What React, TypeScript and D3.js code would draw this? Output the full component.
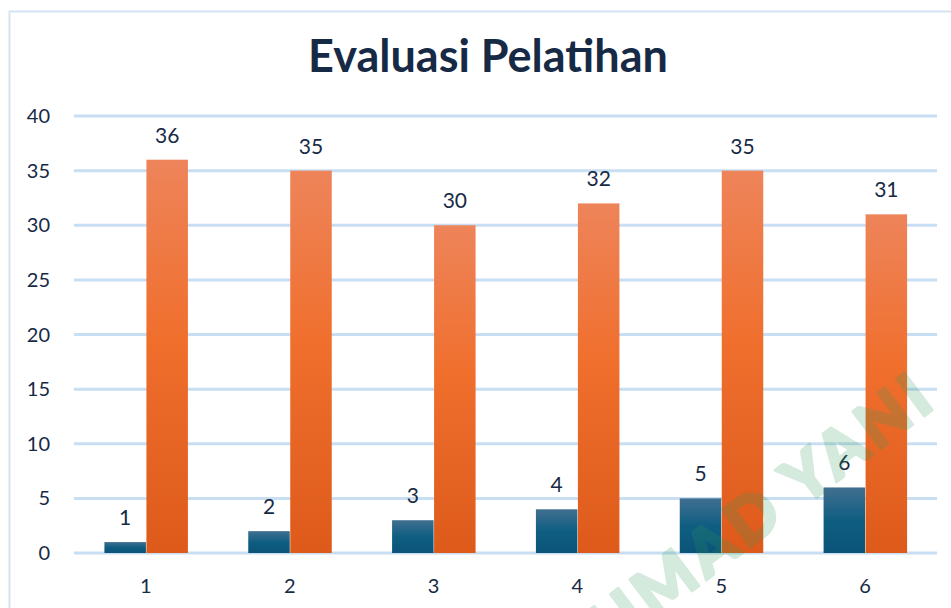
import React, { useEffect, useRef } from "react";
import * as d3 from "d3";

const categories = ["1", "2", "3", "4", "5", "6"];
const seriesBlue = [1, 2, 3, 4, 5, 6];
const seriesOrange = [36, 35, 30, 32, 35, 31];
const yTicks = [0, 5, 10, 15, 20, 25, 30, 35, 40];
const title = "Evaluasi Pelatihan";
const watermark = "ACHMAD YANI";

const W = 951;
const H = 608;
const textColor = "#172a45";
const font = "Lato, 'Open Sans', sans-serif";

export default function App() {
  const ref = useRef<SVGSVGElement>(null);

  useEffect(() => {
    const svg = d3.select(ref.current);
    svg.selectAll("*").remove();

    const defs = svg.append("defs");
    const gOrange = defs
      .append("linearGradient")
      .attr("id", "gradOrange")
      .attr("x1", 0)
      .attr("y1", 0)
      .attr("x2", 0)
      .attr("y2", 1);
    gOrange.append("stop").attr("offset", "0%").attr("stop-color", "#ee845a");
    gOrange.append("stop").attr("offset", "45%").attr("stop-color", "#f06f2d");
    gOrange.append("stop").attr("offset", "100%").attr("stop-color", "#dd5a1b");

    const gBlue = defs
      .append("linearGradient")
      .attr("id", "gradBlue")
      .attr("x1", 0)
      .attr("y1", 0)
      .attr("x2", 0)
      .attr("y2", 1);
    gBlue.append("stop").attr("offset", "0%").attr("stop-color", "#416f90");
    gBlue.append("stop").attr("offset", "50%").attr("stop-color", "#0f5e82");
    gBlue.append("stop").attr("offset", "100%").attr("stop-color", "#0a5478");

    // chart frame
    svg
      .append("rect")
      .attr("x", 9.5)
      .attr("y", 11.5)
      .attr("width", 970)
      .attr("height", 640)
      .attr("fill", "#fff")
      .attr("stroke", "#d3e3f4")
      .attr("stroke-width", 2);

    const x = d3.scaleBand<string>().domain(categories).range([74, 937]);
    const y = d3.scaleLinear().domain([0, 40]).range([553, 116]);
    const barW = 41.5;

    // gridlines
    svg
      .append("g")
      .selectAll("line")
      .data(yTicks)
      .join("line")
      .attr("x1", 74)
      .attr("x2", 937)
      .attr("y1", (d) => y(d))
      .attr("y2", (d) => y(d))
      .attr("stroke", "#c8def2")
      .attr("stroke-width", 3);

    // y tick labels
    svg
      .append("g")
      .selectAll("text")
      .data(yTicks)
      .join("text")
      .attr("x", 50)
      .attr("y", (d) => y(d))
      .attr("dy", "0.35em")
      .attr("text-anchor", "end")
      .attr("font-family", font)
      .attr("font-size", 20)
      .attr("fill", textColor)
      .text((d) => d);

    // x labels
    svg
      .append("g")
      .selectAll("text")
      .data(categories)
      .join("text")
      .attr("x", (d) => x(d)! + x.bandwidth() / 2)
      .attr("y", 593)
      .attr("text-anchor", "middle")
      .attr("font-family", font)
      .attr("font-size", 20)
      .attr("fill", textColor)
      .text((d) => d);

    const center = (i: number) => x(categories[i])! + x.bandwidth() / 2;

    // blue bars
    svg
      .append("g")
      .selectAll("rect")
      .data(seriesBlue)
      .join("rect")
      .attr("x", (d, i) => center(i) - barW)
      .attr("y", (d) => y(d))
      .attr("width", barW)
      .attr("height", (d) => y(0) - y(d))
      .attr("fill", "url(#gradBlue)");

    // orange bars
    svg
      .append("g")
      .selectAll("rect")
      .data(seriesOrange)
      .join("rect")
      .attr("x", (d, i) => center(i) + 0.5)
      .attr("y", (d) => y(d))
      .attr("width", barW)
      .attr("height", (d) => y(0) - y(d))
      .attr("fill", "url(#gradOrange)");

    // value labels
    const labels = svg.append("g").attr("font-family", font).attr("font-size", 21).attr("fill", textColor).attr("text-anchor", "middle");
    labels
      .selectAll("text.b")
      .data(seriesBlue)
      .join("text")
      .attr("class", "b")
      .attr("x", (d, i) => center(i) - barW / 2)
      .attr("y", (d) => y(d) - 17)
      .text((d) => d);
    labels
      .selectAll("text.o")
      .data(seriesOrange)
      .join("text")
      .attr("class", "o")
      .attr("x", (d, i) => center(i) + barW / 2 + 0.5)
      .attr("y", (d) => y(d) - 17)
      .text((d) => d);

    // title
    svg
      .append("text")
      .attr("x", 488)
      .attr("y", 72)
      .attr("text-anchor", "middle")
      .attr("font-family", font)
      .attr("font-weight", 700)
      .attr("font-size", 45)
      .attr("fill", textColor)
      .text(title);

    // watermark (runs off the bottom edge, as in the original)
    svg
      .append("text")
      .attr("transform", "translate(940,404) rotate(-37)")
      .attr("text-anchor", "end")
      .attr("font-family", font)
      .attr("font-weight", 900)
      .attr("font-size", 64)
      .attr("letter-spacing", 5)
      .attr("fill", "#2e9a5a")
      .attr("stroke", "#2e9a5a")
      .attr("stroke-width", 3)
      .attr("stroke-linejoin", "round")
      .attr("opacity", 0.2)
      .text(watermark);
  }, []);

  return (
    <svg
      ref={ref}
      width={W}
      height={H}
      style={{ position: "absolute", left: 0, top: 0, display: "block" }}
    />
  );
}
